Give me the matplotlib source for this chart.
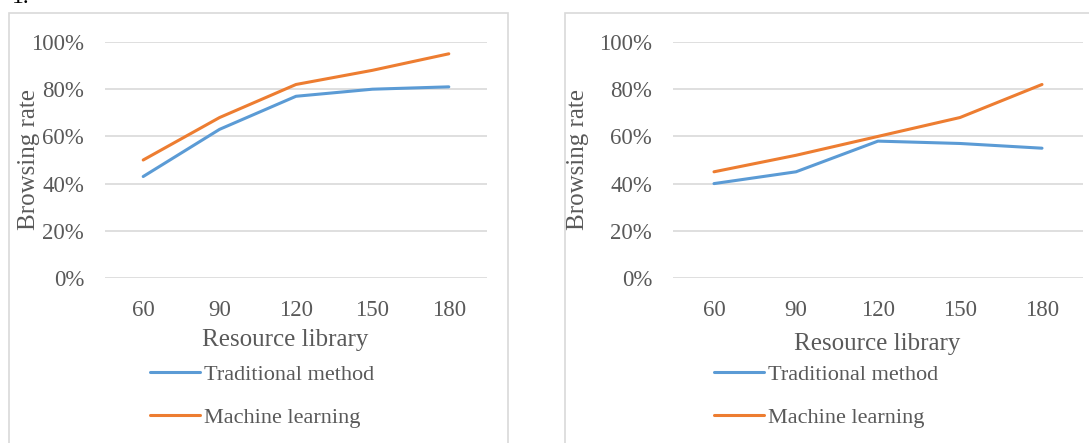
import matplotlib.pyplot as plt
from matplotlib.patches import Rectangle
from matplotlib.ticker import PercentFormatter

categories = ['60', '90', '120', '150', '180']
left_traditional = [0.43, 0.63, 0.77, 0.80, 0.81]
left_machine = [0.50, 0.68, 0.82, 0.88, 0.95]
right_traditional = [0.40, 0.45, 0.58, 0.57, 0.55]
right_machine = [0.45, 0.52, 0.60, 0.68, 0.82]
series_names = ['Traditional method', 'Machine learning']

W, H = 1089, 443
blue = '#5B9BD5'
orange = '#ED7D31'
grid = '#D9D9D9'
text_c = '#595959'

plt.rcParams['font.family'] = ['Liberation Serif', 'DejaVu Serif']

fig = plt.figure(figsize=(W / 100, H / 100), dpi=100)


def px_box(x0, x1, ytop, ybot):
    return [x0 / W, (H - ybot) / H, (x1 - x0) / W, (ybot - ytop) / H]


# panel frames
fig.patches.append(Rectangle((9 / W, -0.1), (508 - 9) / W, (H - 13) / H + 0.1,
                             transform=fig.transFigure, fill=False,
                             edgecolor=grid, linewidth=1.2))
fig.patches.append(Rectangle((565 / W, -0.1), 0.6, (H - 13) / H + 0.1,
                             transform=fig.transFigure, fill=False,
                             edgecolor=grid, linewidth=1.2))
# caption number cut off by the top edge
fig.text(12 / W, (H - 3) / H, '1.', fontsize=17, color='black',
         ha='left', va='baseline')

panels = [
    (px_box(105, 487, 42, 278), left_traditional, left_machine, 29, 285, 340, 150),
    (px_box(673, 1083, 42, 278), right_traditional, right_machine, 578, 877, 344, 714),
]

x = list(range(len(categories)))
for box, trad, mach, ylab_x, xlab_x, xlab_y, leg_x in panels:
    ax = fig.add_axes(box)
    l1, = ax.plot(x, trad, color=blue, linewidth=2.2, solid_capstyle='round')
    l2, = ax.plot(x, mach, color=orange, linewidth=2.2, solid_capstyle='round')
    ax.set_xlim(-0.5, len(categories) - 0.5)
    ax.set_ylim(0, 1)
    ax.set_yticks([0, 0.2, 0.4, 0.6, 0.8, 1.0])
    ax.yaxis.set_major_formatter(PercentFormatter(1.0, decimals=0))
    ax.set_xticks(x)
    ax.set_xticklabels(categories)
    ax.grid(axis='y', color=grid, linewidth=1.2)
    ax.set_axisbelow(True)
    for s in ax.spines.values():
        s.set_visible(False)
    ax.tick_params(axis='both', length=0, labelsize=16.5, labelcolor=text_c)
    ax.tick_params(axis='x', pad=16)
    ax.tick_params(axis='y', pad=15)

    fig.text(ylab_x / W, (H - 160) / H, 'Browsing rate', rotation=90,
             fontsize=18, color=text_c, ha='center', va='center')
    fig.text(xlab_x / W, (H - xlab_y) / H, 'Resource library',
             fontsize=18, color=text_c, ha='center', va='center')

    leg = fig.legend([l1, l2], series_names, loc='upper left',
                     bbox_to_anchor=(leg_x / W, (H - 364) / H),
                     frameon=False, fontsize=16, handlelength=2.25,
                     handletextpad=0.2, labelspacing=1.02, borderpad=0,
                     borderaxespad=0)
    for t in leg.get_texts():
        t.set_color(text_c)

fig.savefig('out.png', dpi=100)
